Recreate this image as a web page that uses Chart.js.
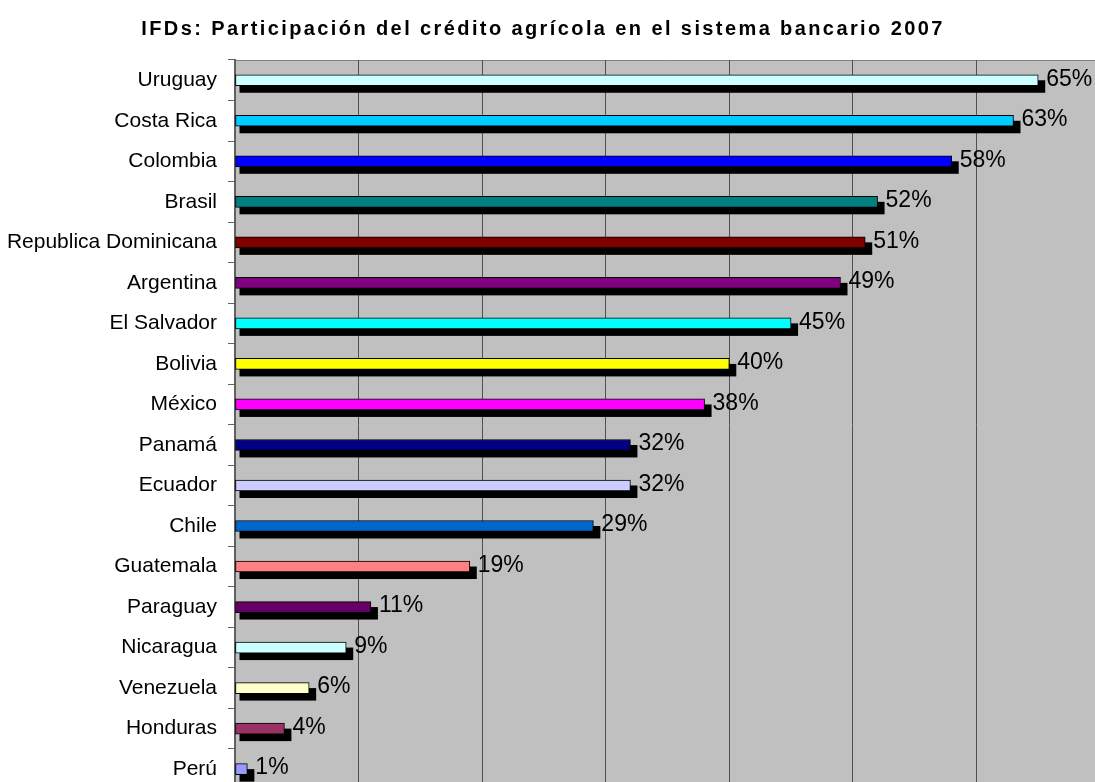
<!DOCTYPE html>
<html>
<head>
<meta charset="utf-8">
<script src="https://cdn.jsdelivr.net/npm/chart.js@4"></script>
<style>
  html, body { margin: 0; padding: 0; background: #fff; overflow: hidden; }
  #wrap { width: 1095px; height: 782px; overflow: hidden; }
</style>
</head>
<body>
<div id="wrap"><canvas id="myChart" width="1100" height="813"></canvas></div>
<script>
// data
const countries = ["Uruguay", "Costa Rica", "Colombia", "Brasil", "Republica Dominicana", "Argentina",
    "El Salvador", "Bolivia", "México", "Panamá", "Ecuador", "Chile", "Guatemala", "Paraguay",
    "Nicaragua", "Venezuela", "Honduras", "Perú"];
const shares = [65, 63, 58, 52, 51, 49, 45, 40, 38, 32, 32, 29, 19, 11, 9, 6, 4, 1];
const barColors = ["#CCFFFF", "#00CCFF", "#0000FF", "#008080", "#800000", "#800080",
    "#00FFFF", "#FFFF00", "#FF00FF", "#000080", "#CCCCFF", "#0066CC", "#FF8080", "#660066",
    "#CCFFFF", "#FFFFCC", "#993366", "#9999FF"];
const xTicks = [0, 10, 20, 30, 40, 50, 60, 70];
const chartTitle = 'IFDs: Participación del crédito agrícola en el sistema bancario 2007';

const FONT = "'Liberation Sans', Arial, sans-serif";

//gray plot background + title
const plotBackground = {
    id: 'plotBackground',
    beforeDraw: function(chart) {
        const a = chart.chartArea;
        const ctx = chart.ctx;
        ctx.save();
        ctx.fillStyle = '#C0C0C0';
        ctx.fillRect(a.left, a.top, a.right - a.left, a.bottom - a.top);
        ctx.strokeStyle = '#808080';
        ctx.lineWidth = 1;
        ctx.beginPath();
        ctx.moveTo(a.left, a.top + 0.5);
        ctx.lineTo(a.right, a.top + 0.5);
        ctx.stroke();

        ctx.fillStyle = '#000000';
        ctx.font = 'bold 20px ' + FONT;
        ctx.letterSpacing = '2.4px';
        ctx.textAlign = 'center';
        ctx.textBaseline = 'middle';
        ctx.fillText(chartTitle, 543, 29);
        ctx.restore();
    }
};

//black shadow under the bars, taken from the bar elements
const barShadow = {
    id: 'barShadow',
    beforeDatasetsDraw: function(chart) {
        const ctx = chart.ctx;
        const meta = chart.getDatasetMeta(0);
        ctx.save();
        ctx.fillStyle = '#000000';
        meta.data.forEach(function(bar) {
            const h = bar.height;
            ctx.fillRect(bar.base + 4, bar.y, bar.x - bar.base + 3, h / 2 + 7);
        });
        ctx.restore();
    }
};

//percentage labels at the end of each bar
const valueLabels = {
    id: 'valueLabels',
    afterDatasetsDraw: function(chart) {
        const ctx = chart.ctx;
        const meta = chart.getDatasetMeta(0);
        ctx.save();
        ctx.font = '23px ' + FONT;
        ctx.fillStyle = '#000000';
        ctx.textAlign = 'left';
        ctx.textBaseline = 'middle';
        meta.data.forEach(function(bar, i) {
            ctx.fillText(shares[i] + '%', bar.x + 8, bar.y - 1);
        });
        ctx.restore();
    }
};

const ctx = document.getElementById('myChart').getContext('2d');
const myChart = new Chart(ctx, {
    type: 'bar',
    data: {
        labels: countries,
        datasets: [{
            data: shares,
            backgroundColor: barColors,
            borderColor: '#000000',
            borderWidth: 1,
            borderSkipped: false,
            barThickness: 11
        }]
    },
    options: {
        indexAxis: 'y',
        responsive: false,
        animation: false,
        layout: { padding: { top: 60, right: 0, bottom: 0, left: 0 } },
        plugins: {
            legend: { display: false },
            tooltip: { enabled: false },
            title: { display: false }
        },
        scales: {
            x: {
                min: 0,
                max: 70,
                afterBuildTicks: function(axis) {
                    axis.ticks = xTicks.map(function(v) { return { value: v }; });
                },
                ticks: { display: false },
                grid: { color: '#505050', lineWidth: 1, drawTicks: false },
                border: { display: false }
            },
            y: {
                afterFit: function(axis) { axis.width = 235; },
                ticks: {
                    color: '#000000',
                    font: { family: FONT, size: 21 },
                    padding: 11
                },
                grid: {
                    offset: true,
                    drawOnChartArea: false,
                    tickLength: 7,
                    color: '#606060'
                },
                border: { display: true, color: '#606060', width: 2 }
            }
        }
    },
    plugins: [plotBackground, barShadow, valueLabels]
});
</script>
</body>
</html>
